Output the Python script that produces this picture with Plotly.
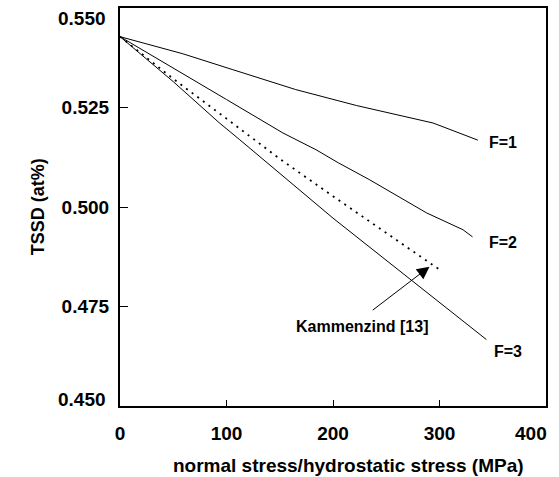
import plotly.graph_objects as go

# Normal stress / hydrostatic stress (MPa) and TSSD (at%) curves
f1_x = [0, 59, 106, 165, 222, 294, 336]
f1_y = [0.5428, 0.5385, 0.5345, 0.5295, 0.5255, 0.5211, 0.5168]

f2_x = [0, 50, 100, 153, 184, 205, 234, 288, 322, 331]
f2_y = [0.5428, 0.5350, 0.5270, 0.5186, 0.5144, 0.5111, 0.5069, 0.4985, 0.4943, 0.4925]

f3_x = [0, 50, 93, 112, 200, 272, 344]
f3_y = [0.5428, 0.5315, 0.5212, 0.5170, 0.4972, 0.4819, 0.4667]

kam_x = [0, 50, 100, 150, 200, 250, 302]
kam_y = [0.5428, 0.5322, 0.5222, 0.5121, 0.5027, 0.4935, 0.4839]

x_ticks = [0, 100, 200, 300, 400]
y_ticks = [0.450, 0.475, 0.500, 0.525, 0.550]

FONT = "Liberation Sans, Arial, sans-serif"

fig = go.Figure()
for xs, ys in [(f1_x, f1_y), (f2_x, f2_y), (f3_x, f3_y)]:
    fig.add_trace(go.Scatter(x=xs, y=ys, mode="lines",
                             line=dict(color="black", width=1), showlegend=False))
fig.add_trace(go.Scatter(x=kam_x, y=kam_y, mode="lines",
                         line=dict(color="black", width=1.8, dash="2px,5px"),
                         showlegend=False))

curve_labels = [("F=1", 360, 0.5163), ("F=2", 360, 0.4910), ("F=3", 364, 0.4638)]
for txt, lx, ly in curve_labels:
    fig.add_annotation(x=lx, y=ly, text=f"<b>{txt}</b>", showarrow=False,
                       font=dict(size=16, color="black", family=FONT))

# Arrow pointing at the end of the Kammenzind curve
fig.add_annotation(x=290.6, y=0.4850, ax=235.9, ay=0.4738, axref="x", ayref="y",
                   text="", showarrow=True, arrowhead=2, arrowsize=2.5,
                   arrowwidth=1, arrowcolor="black")
fig.add_annotation(x=227, y=0.4700, text="<b>Kammenzind [13]</b>", showarrow=False,
                   font=dict(size=16, color="black", family=FONT))

# Axis titles
fig.add_annotation(x=0.5, y=-0.117, xref="paper", yref="paper",
                   text="<b>normal stress/hydrostatic stress (MPa)</b>", showarrow=False,
                   xanchor="center", yanchor="top", xshift=15,
                   font=dict(size=19, color="black", family=FONT))
fig.add_annotation(x=-0.22, y=0.5, xref="paper", yref="paper",
                   text="<b>TSSD (at%)</b>", showarrow=False, textangle=-90,
                   font=dict(size=18, color="black", family=FONT))

# End tick labels nudged inward so they stay on the page
fig.add_annotation(x=400, y=0, xref="x", yref="paper", text="<b>400</b>",
                   showarrow=False, xanchor="right", yanchor="top", xshift=3, yshift=-15,
                   font=dict(size=19, color="black", family=FONT))
fig.add_annotation(x=0, y=y_ticks[-1], xref="paper", yref="y", text=f"<b>{y_ticks[-1]:.3f}</b>",
                   showarrow=False, xanchor="right", yanchor="middle", xshift=-12, yshift=-10,
                   font=dict(size=19, color="black", family=FONT))
fig.add_annotation(x=0, y=y_ticks[0], xref="paper", yref="y", text=f"<b>{y_ticks[0]:.3f}</b>",
                   showarrow=False, xanchor="right", yanchor="middle", xshift=-12, yshift=7,
                   font=dict(size=19, color="black", family=FONT))

fig.update_xaxes(range=[0, 400], tickvals=x_ticks,
                 ticktext=["<b>0</b>", "<b>100</b>", "<b>200</b>", "<b>300</b>", ""],
                 ticks="inside", ticklen=6, tickwidth=1, tickcolor="black",
                 ticklabelstandoff=9, automargin=False,
                 showline=True, linecolor="black", linewidth=1.5, mirror=True,
                 showgrid=False, zeroline=False,
                 tickfont=dict(size=19, color="black", family=FONT))
fig.update_yaxes(range=[0.450, 0.550], tickvals=y_ticks,
                 ticktext=[""] + [f"<b>{v:.3f}</b>\u00a0" for v in y_ticks[1:-1]] + [""],
                 ticks="inside", ticklen=8, tickwidth=1, tickcolor="black",
                 automargin=False,
                 showline=True, linecolor="black", linewidth=1.5, mirror=True,
                 showgrid=False, zeroline=False,
                 tickfont=dict(size=19, color="black", family=FONT))

fig.update_layout(width=559, height=477, margin=dict(l=120, r=13, t=8, b=71),
                  plot_bgcolor="white", paper_bgcolor="white")
fig.write_html("out.html")
